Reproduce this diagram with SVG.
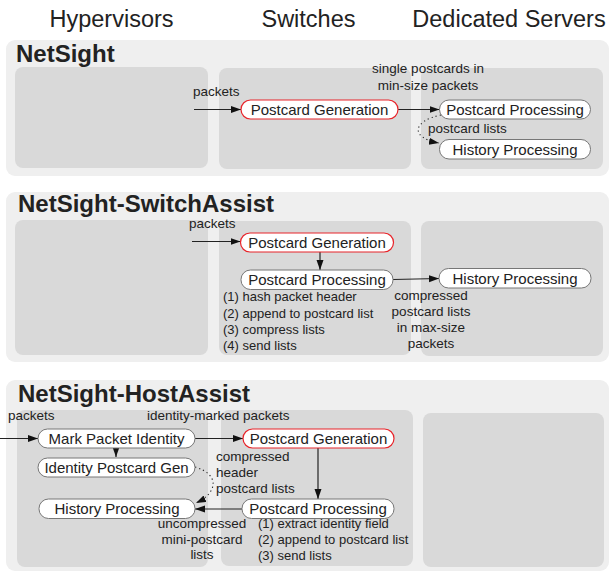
<svg xmlns="http://www.w3.org/2000/svg" width="609" height="573" viewBox="0 0 609 573">
<defs>
<style>
text{font-family:"Liberation Sans",Arial,Helvetica,sans-serif;fill:#222}
.hdr{font-size:23.5px}
.ttl{font-size:24px;font-weight:bold}
.outer{fill:#efefef}
.inner{fill:#d9d9d9}
.node rect{fill:#fff;stroke:#777;stroke-width:1}
.node.red rect{stroke:#e8242a;stroke-width:1.2}
.node text{font-size:15px;text-anchor:middle}
.lbl{font-size:13.5px}
.lst{font-size:13px}
.mid{text-anchor:middle}
.conn path{fill:none;stroke:#222;stroke-width:1.2}
.conn path.dot{stroke-dasharray:1.2 3;stroke-width:1.1}
</style>
<marker id="ah" markerUnits="userSpaceOnUse" markerWidth="10" markerHeight="8" refX="10" refY="3.5" orient="auto">
<path d="M0,0 L10,3.5 L0,7 z" fill="#111"/>
</marker>
</defs>

<g id="headers">
<text class="hdr mid" x="111.5" y="27">Hypervisors</text>
<text class="hdr mid" x="308.5" y="27">Switches</text>
<text class="hdr mid" x="509" y="27">Dedicated Servers</text>
</g>

<g id="panel-netsight">
<rect class="outer" x="6" y="40" width="603" height="136" rx="9"/>
<text class="ttl" x="16" y="62">NetSight</text>
<rect class="inner" x="15" y="67" width="193" height="101" rx="8"/>
<rect class="inner" x="219" y="68" width="192" height="101" rx="8"/>
<rect class="inner" x="421" y="68" width="182" height="101" rx="8"/>
</g>

<g id="panel-switchassist">
<rect class="outer" x="6" y="192" width="603" height="170" rx="9"/>
<text class="ttl" x="18" y="212">NetSight-SwitchAssist</text>
<rect class="inner" x="15" y="220" width="193" height="135" rx="8"/>
<rect class="inner" x="219" y="221" width="192" height="134" rx="8"/>
<rect class="inner" x="421" y="221" width="182" height="135" rx="8"/>
</g>

<g id="panel-hostassist">
<rect class="outer" x="6" y="380" width="603" height="191" rx="9"/>
<text class="ttl" x="18" y="402">NetSight-HostAssist</text>
<rect class="inner" x="17" y="410" width="191" height="157" rx="8"/>
<rect class="inner" x="221" y="410" width="192" height="156" rx="8"/>
<rect class="inner" x="423" y="413" width="181" height="154" rx="8"/>
</g>

<g id="connectors" class="conn">
<path d="M194,109.5 H241" marker-end="url(#ah)"/>
<path d="M398,109.5 H439.5" marker-end="url(#ah)"/>
<path class="dot" d="M441,115 C412,121 410,138 439,143" marker-end="url(#ah)"/>
<path d="M192,241.5 H240.5" marker-end="url(#ah)"/>
<path d="M320,252 V270" marker-end="url(#ah)"/>
<path d="M393,279.5 L439,278.5" marker-end="url(#ah)"/>
<path d="M0,438.5 H38" marker-end="url(#ah)"/>
<path d="M116,448 V457" marker-end="url(#ah)"/>
<path d="M195,438.5 H243" marker-end="url(#ah)"/>
<path d="M318,448 V499" marker-end="url(#ah)"/>
<path d="M242,509 H195" marker-end="url(#ah)"/>
<path class="dot" d="M195,467 C219,474 219,492 196,503" marker-end="url(#ah)"/>
</g>

<g id="n1-pgen" class="node red"><rect x="241" y="100" width="157" height="19" rx="9.5"/><text x="319.5" y="114.5">Postcard Generation</text></g>
<g id="n1-pproc" class="node"><rect x="439.5" y="100" width="151" height="19" rx="9.5"/><text x="515" y="114.5">Postcard Processing</text></g>
<g id="n1-hist" class="node"><rect x="439.5" y="139.5" width="151" height="19.5" rx="9.5"/><text x="515" y="154.5">History Processing</text></g>

<g id="n2-pgen" class="node red"><rect x="240.5" y="233" width="153" height="19" rx="9.5"/><text x="317" y="247.5">Postcard Generation</text></g>
<g id="n2-pproc" class="node"><rect x="241" y="270" width="152" height="19.5" rx="9.5"/><text x="317" y="285">Postcard Processing</text></g>
<g id="n2-hist" class="node"><rect x="439" y="268.5" width="152" height="19.5" rx="9.5"/><text x="515" y="283.5">History Processing</text></g>

<g id="n3-mark" class="node"><rect x="38" y="429" width="157" height="19" rx="9.5"/><text x="116.5" y="443.5">Mark Packet Identity</text></g>
<g id="n3-idgen" class="node"><rect x="38" y="458" width="157" height="19" rx="9.5"/><text x="116.5" y="472.5">Identity Postcard Gen</text></g>
<g id="n3-hist" class="node"><rect x="39" y="499" width="156" height="19.5" rx="9.5"/><text x="117" y="514">History Processing</text></g>
<g id="n3-pgen" class="node red"><rect x="243" y="429" width="151" height="19" rx="9.5"/><text x="318.5" y="443.5">Postcard Generation</text></g>
<g id="n3-pproc" class="node"><rect x="242" y="499" width="152" height="19.5" rx="9.5"/><text x="318" y="514">Postcard Processing</text></g>

<g id="labels">
<text class="lbl" x="193" y="96">packets</text>
<text class="lbl mid" x="428" y="73">single postcards in</text>
<text class="lbl mid" x="428" y="90">min-size packets</text>
<text class="lbl" x="428" y="133">postcard lists</text>

<text class="lbl" x="189" y="228">packets</text>
<text class="lst" x="223" y="301">(1) hash packet header</text>
<text class="lst" x="223" y="318">(2) append to postcard list</text>
<text class="lst" x="223" y="334">(3) compress lists</text>
<text class="lst" x="223" y="350">(4) send lists</text>
<text class="lbl mid" x="431" y="300">compressed</text>
<text class="lbl mid" x="431" y="316">postcard lists</text>
<text class="lbl mid" x="431" y="332">in max-size</text>
<text class="lbl mid" x="431" y="348">packets</text>

<text class="lbl" x="8" y="420">packets</text>
<text class="lbl" x="147" y="420">identity-marked packets</text>
<text class="lbl" x="216" y="461">compressed</text>
<text class="lbl" x="216" y="477">header</text>
<text class="lbl" x="216" y="493">postcard lists</text>
<text class="lbl mid" x="202" y="528">uncompressed</text>
<text class="lbl mid" x="202" y="544">mini-postcard</text>
<text class="lbl mid" x="202" y="559">lists</text>
<text class="lst" x="258" y="528">(1) extract identity field</text>
<text class="lst" x="258" y="544">(2) append to postcard list</text>
<text class="lst" x="258" y="560">(3) send lists</text>
</g>
</svg>
